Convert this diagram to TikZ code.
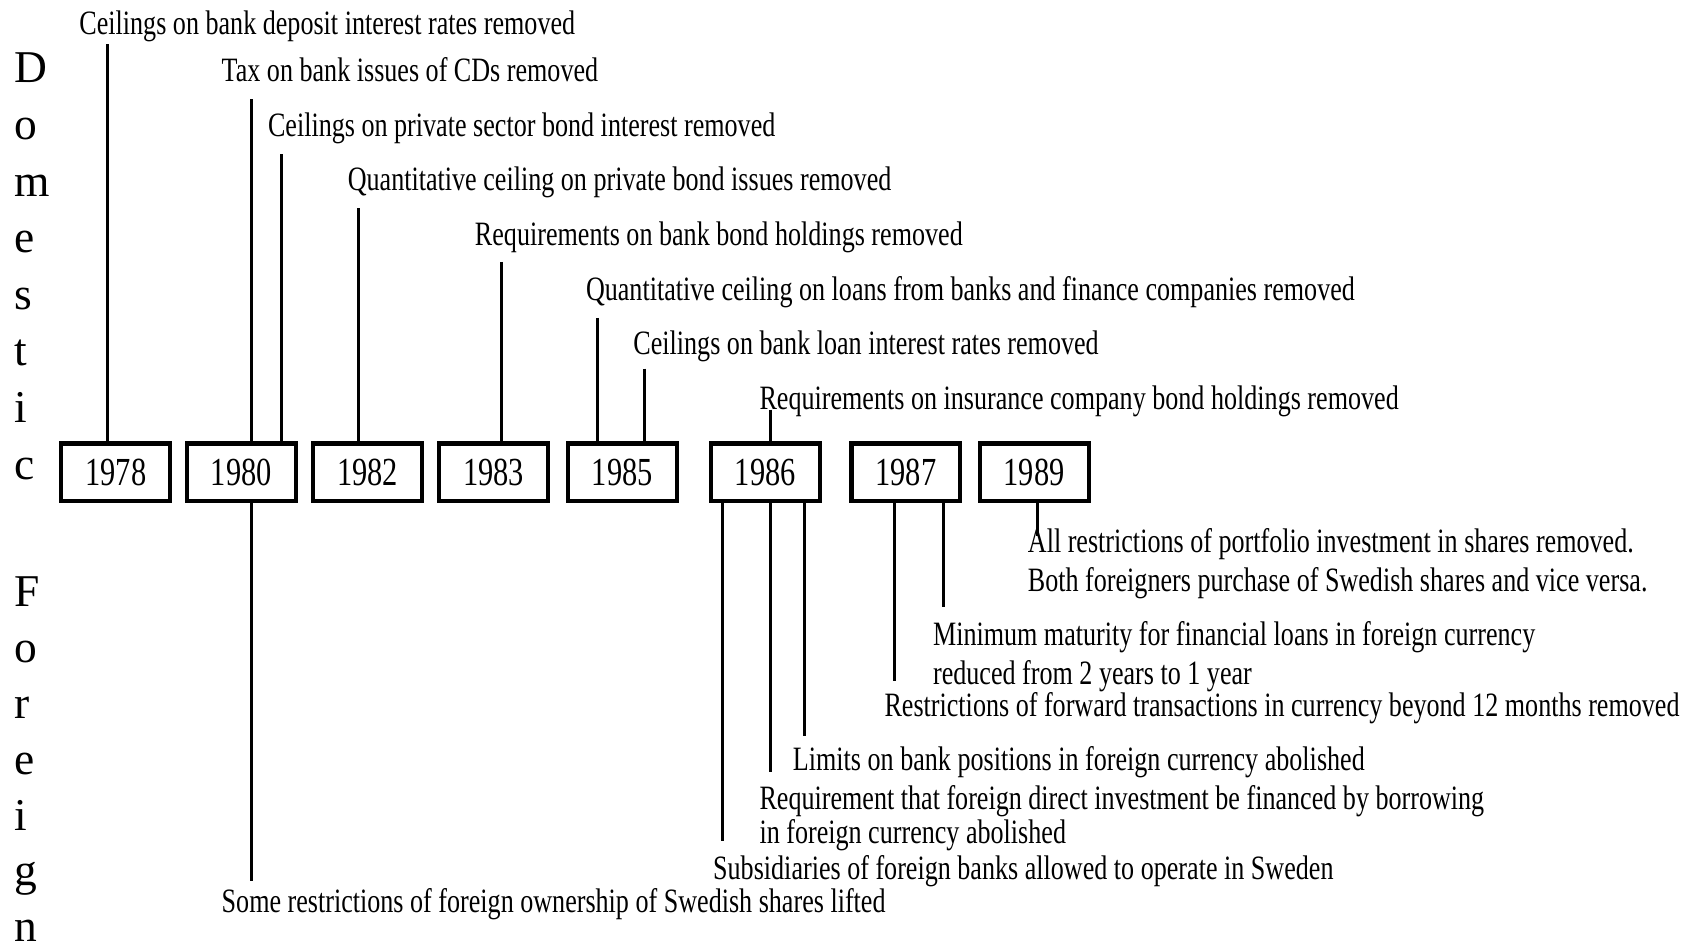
\documentclass[tikz,border=0pt]{standalone}
\usepackage{fontspec}
\setmainfont{Liberation Serif}
\newfontfamily\narrowfont[FakeStretch=0.765]{Liberation Serif}
\usepackage{tikz}

\begin{document}
\begin{tikzpicture}[x=0.01cm, y=-0.01cm,
    yearbox/.style = {draw, line width=1.1pt, minimum width=1.01cm, minimum height=0.53cm, inner sep=0pt, font=\narrowfont\fontsize{10.5}{12}\selectfont},
    event/.style = {anchor=base west, inner sep=0pt, font=\narrowfont\fontsize{9}{10}\selectfont},
    side/.style = {anchor=base west, inner sep=0pt, font=\fontsize{12}{14}\selectfont},
    link/.style = {line width=0.8pt}]
    \useasboundingbox (0,0) rectangle (1568,879);
    % side titles
    \foreach \ltr [count=\n from 0] in {D,o,m,e,s,t,i,c}
        \node[side] (dom\n) at (13, 77+52.5*\n) {\ltr};
    \foreach \ltr [count=\n from 0] in {F,o,r,e,i,g,n}
        \node[side] (for\n) at (13, 563+51.8*\n) {\ltr};
    % years
    \node[yearbox] (y1978) at (107.5,438) {1978};
    \node[yearbox] (y1980) at (224,438) {1980};
    \node[yearbox] (y1982) at (341,438) {1982};
    \node[yearbox] (y1983) at (458,438) {1983};
    \node[yearbox] (y1985) at (577.5,438) {1985};
    \node[yearbox] (y1986) at (710,438) {1986};
    \node[yearbox] (y1987) at (840.5,438) {1987};
    \node[yearbox] (y1989) at (959.5,438) {1989};
    % domestic
    \node[event] (d1) at (73,32) {Ceilings on bank deposit interest rates removed};
    \node[event] (d2) at (205,76) {Tax on bank issues of CDs removed};
    \node[event] (d3) at (248,127) {Ceilings on private sector bond interest removed};
    \node[event] (d4) at (322,177) {Quantitative ceiling on private bond issues removed};
    \node[event] (d5) at (440,228) {Requirements on bank bond holdings removed};
    \node[event] (d6) at (543,279) {Quantitative ceiling on loans from banks and finance companies removed};
    \node[event] (d7) at (587,329) {Ceilings on bank loan interest rates removed};
    \node[event] (d8) at (704,380) {Requirements on insurance company bond holdings removed};
    \coordinate (dt1) at (100,41);
    \coordinate (dt2) at (233,92);
    \coordinate (dt3) at (261,143);
    \coordinate (dt4) at (333,193);
    \coordinate (dt5) at (465,243);
    \coordinate (dt6) at (554,295);
    \coordinate (dt7) at (598,342);
    \coordinate (dt8) at (715,380);
    \draw[link] (dt1) -- (dt1 |- y1978.north);
    \draw[link] (dt2) -- (dt2 |- y1980.north);
    \draw[link] (dt3) -- (dt3 |- y1980.north);
    \draw[link] (dt4) -- (dt4 |- y1982.north);
    \draw[link] (dt5) -- (dt5 |- y1983.north);
    \draw[link] (dt6) -- (dt6 |- y1985.north);
    \draw[link] (dt7) -- (dt7 |- y1985.north);
    \draw[link] (dt8) -- (dt8 |- y1986.north);
    % foreign
    \node[event] (f1) at (953,513) {All restrictions of portfolio investment in shares removed.};
    \node[event] (f1b) at (953,549) {Both foreigners purchase of Swedish shares and vice versa.};
    \node[event] (f2) at (865,599) {Minimum maturity for financial loans in foreign currency};
    \node[event] (f2b) at (865,635) {reduced from 2 years to 1 year};
    \node[event] (f3) at (820,665) {Restrictions of forward transactions in currency beyond 12 months removed};
    \node[event] (f4) at (735,715) {Limits on bank positions in foreign currency abolished};
    \node[event] (f5) at (704,751) {Requirement that foreign direct investment be financed by borrowing};
    \node[event] (f5b) at (704,783) {in foreign currency abolished};
    \node[event] (f6) at (661,816) {Subsidiaries of foreign banks allowed to operate in Sweden};
    \node[event] (f7) at (205,847) {Some restrictions of foreign ownership of Swedish shares lifted};
    \coordinate (fe1) at (963,497);
    \coordinate (fe2) at (875,563);
    \coordinate (fe3) at (830,632);
    \coordinate (fe4) at (746,683);
    \coordinate (fe5) at (715,716);
    \coordinate (fe6) at (670,780);
    \coordinate (fe7) at (233,817);
    \draw[link] (fe1 |- y1989.south) -- (fe1);
    \draw[link] (fe2 |- y1987.south) -- (fe2);
    \draw[link] (fe3 |- y1987.south) -- (fe3);
    \draw[link] (fe4 |- y1986.south) -- (fe4);
    \draw[link] (fe5 |- y1986.south) -- (fe5);
    \draw[link] (fe6 |- y1986.south) -- (fe6);
    \draw[link] (fe7 |- y1980.south) -- (fe7);
\end{tikzpicture}
\end{document}
